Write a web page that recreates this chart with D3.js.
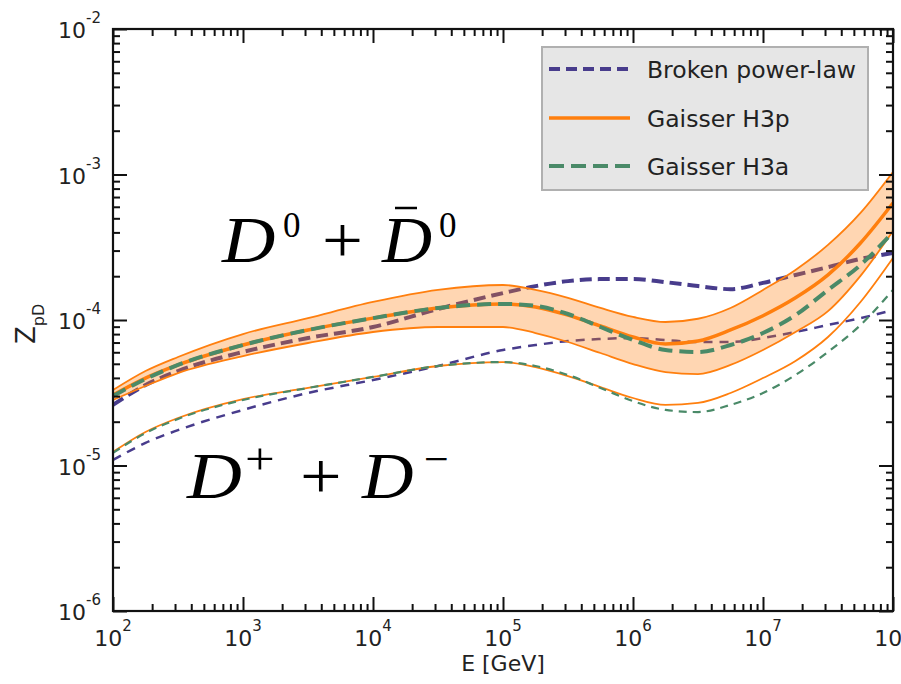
<!DOCTYPE html>
<html><head><meta charset="utf-8">
<script src="https://cdn.jsdelivr.net/npm/d3@7"></script>
<style>body{margin:0;background:#fff}</style>
</head><body><svg id="c" width="901" height="684"></svg>
<script>
// Energies [GeV] (log grid)
const energies = [1e2, 1.778e2, 3.162e2, 1e3, 3.162e3, 1e4, 3.162e4, 1e5, 1.778e5, 3.162e5, 5.623e5, 1e6, 1.778e6, 3.162e6, 5.623e6, 1e7, 1.778e7, 3.162e7, 5.623e7, 1e8];
// D0 + D0bar
const bplD0   = [2.61e-5, 3.57e-5, 4.46e-5, 6.03e-5, 7.52e-5, 8.95e-5, 1.19e-4, 1.53e-4, 1.71e-4, 1.85e-4, 1.91e-4, 1.91e-4, 1.82e-4, 1.71e-4, 1.63e-4, 1.80e-4, 2.04e-4, 2.31e-4, 2.63e-4, 2.89e-4];
const h3pD0   = [3.05e-5, 3.99e-5, 4.91e-5, 6.73e-5, 8.54e-5, 1.03e-4, 1.21e-4, 1.29e-4, 1.23e-4, 1.08e-4, 9.09e-5, 7.64e-5, 6.84e-5, 7.17e-5, 8.54e-5, 1.07e-4, 1.42e-4, 2.04e-4, 3.38e-4, 6.37e-4];
const h3pD0Hi = [3.30e-5, 4.46e-5, 5.57e-5, 8.01e-5, 1.03e-4, 1.33e-4, 1.61e-4, 1.74e-4, 1.61e-4, 1.42e-4, 1.21e-4, 1.05e-4, 9.69e-5, 1.02e-4, 1.21e-4, 1.61e-4, 2.21e-4, 3.28e-4, 5.44e-4, 1.04e-3];
const h3pD0Lo = [2.82e-5, 3.52e-5, 4.32e-5, 5.65e-5, 6.95e-5, 8.27e-5, 8.95e-5, 8.95e-5, 8.14e-5, 7.06e-5, 5.93e-5, 4.98e-5, 4.39e-5, 4.25e-5, 4.91e-5, 6.22e-5, 8.27e-5, 1.15e-4, 2.01e-4, 4.09e-4];
const h3aD0   = [3.00e-5, 3.93e-5, 4.91e-5, 6.73e-5, 8.54e-5, 1.03e-4, 1.21e-4, 1.29e-4, 1.25e-4, 1.10e-4, 8.95e-5, 7.29e-5, 6.22e-5, 6.03e-5, 6.73e-5, 8.14e-5, 1.08e-4, 1.61e-4, 2.39e-4, 4.02e-4];
// D+ + D-
const bplDp   = [1.09e-5, 1.43e-5, 1.75e-5, 2.41e-5, 3.15e-5, 3.87e-5, 4.83e-5, 6.22e-5, 6.73e-5, 7.17e-5, 7.40e-5, 7.52e-5, 7.29e-5, 7.06e-5, 7.06e-5, 7.52e-5, 8.27e-5, 9.24e-5, 1.03e-4, 1.17e-4];
const h3pDp   = [1.24e-5, 1.70e-5, 2.12e-5, 2.86e-5, 3.41e-5, 4.06e-5, 4.83e-5, 5.14e-5, 4.75e-5, 4.12e-5, 3.46e-5, 2.91e-5, 2.61e-5, 2.69e-5, 3.15e-5, 3.99e-5, 5.23e-5, 7.64e-5, 1.33e-4, 2.67e-4];
const h3aDp   = [1.22e-5, 1.67e-5, 2.09e-5, 2.82e-5, 3.41e-5, 4.06e-5, 4.83e-5, 5.14e-5, 4.83e-5, 4.19e-5, 3.41e-5, 2.77e-5, 2.41e-5, 2.33e-5, 2.61e-5, 3.15e-5, 4.19e-5, 6.03e-5, 9.24e-5, 1.61e-4];

const xTicks = [1e2, 1e3, 1e4, 1e5, 1e6, 1e7, 1e8];
const xTickExp = ["2", "3", "4", "5", "6", "7", "8"];
const yTicks = [1e-6, 1e-5, 1e-4, 1e-3, 1e-2];
const yTickExp = ["-6", "-5", "-4", "-3", "-2"];
const legendLabels = ["Broken power-law", "Gaisser H3p", "Gaisser H3a"];

const C = {purple: "#483c8c", orange: "#ff7f0e", green: "#4a8a68", band: "rgba(255,127,14,0.32)"};
const svg = d3.select("#c");
const L = 113, R = 893, T = 29, B = 611;
const x = d3.scaleLog().domain([1e2, 1e8]).range([L, R]);
const y = d3.scaleLog().domain([1e-6, 1e-2]).range([B, T]);

svg.append("defs").append("clipPath").attr("id", "clip")
  .append("rect").attr("x", L).attr("y", T).attr("width", R - L).attr("height", B - T);
const plot = svg.append("g").attr("clip-path", "url(#clip)");

const zip = arr => energies.map((e, i) => [e, arr[i]]);
const line = d3.line().x(d => x(d[0])).y(d => y(d[1])).curve(d3.curveMonotoneX);
const area = d3.area().x(d => x(d.e)).y0(d => y(d.lo)).y1(d => y(d.hi)).curve(d3.curveMonotoneX);

function path(arr, color, w, dash) {
  plot.append("path").datum(zip(arr)).attr("d", line).attr("fill", "none")
    .attr("stroke", color).attr("stroke-width", w).attr("stroke-dasharray", dash || null);
}
// purple (under band)
path(bplD0, C.purple, 4, "12,6");
path(bplDp, C.purple, 2.5, "9,7");
// band
plot.append("path").datum(energies.map((e, i) => ({e, lo: h3pD0Lo[i], hi: h3pD0Hi[i]})))
  .attr("d", area).attr("fill", C.band);
path(h3pD0Hi, C.orange, 1.8);
path(h3pD0Lo, C.orange, 1.8);
path(h3pD0, C.orange, 3.5);
path(h3pDp, C.orange, 1.8);
// green
path(h3aD0, C.green, 4, "14,7");
path(h3aDp, C.green, 2.2, "8,6");

// axes
const minorX = [], minorY = [];
for (let e = 2; e < 8; e++) for (let k = 2; k <= 9; k++) minorX.push(k * Math.pow(10, e));
for (let e = -6; e < -2; e++) for (let k = 2; k <= 9; k++) minorY.push(k * Math.pow(10, e));
function ax(gen, pos, vals, size) {
  const g = svg.append("g").attr("transform", pos)
    .call(gen.tickValues(vals).tickSize(size).tickFormat(""));
  g.select(".domain").remove();
  g.selectAll("line").attr("stroke", "#111").attr("stroke-width", 2);
}
ax(d3.axisBottom(x), `translate(0,${B})`, xTicks, -14);
ax(d3.axisBottom(x), `translate(0,${B})`, minorX, -7);
ax(d3.axisTop(x), `translate(0,${T})`, xTicks, -14);
ax(d3.axisTop(x), `translate(0,${T})`, minorX, -7);
ax(d3.axisLeft(y), `translate(${L},0)`, yTicks, -14);
ax(d3.axisLeft(y), `translate(${L},0)`, minorY, -7);
ax(d3.axisRight(y), `translate(${R},0)`, yTicks, -14);
ax(d3.axisRight(y), `translate(${R},0)`, minorY, -7);
svg.append("rect").attr("x", L).attr("y", T).attr("width", R - L).attr("height", B - T)
  .attr("fill", "none").attr("stroke", "#111").attr("stroke-width", 2.2);

const font = "DejaVu Sans";
xTicks.forEach((v, i) => {
  const t = svg.append("text").attr("x", x(v)).attr("y", 646).attr("text-anchor", "middle")
    .attr("font-family", font).attr("font-size", 22).attr("fill", "#222");
  t.append("tspan").text("10");
  t.append("tspan").attr("dy", -15).attr("font-size", 15).text(xTickExp[i]);
});
yTicks.forEach((v, i) => {
  const t = svg.append("text").attr("x", 101).attr("y", y(v) + 9).attr("text-anchor", "end")
    .attr("font-family", font).attr("font-size", 22).attr("fill", "#222");
  t.append("tspan").text("10");
  t.append("tspan").attr("dy", -15).attr("font-size", 15).text(yTickExp[i]);
});
svg.append("text").attr("x", 503).attr("y", 671).attr("text-anchor", "middle")
  .attr("font-family", font).attr("font-size", 22).attr("fill", "#222").text("E [GeV]");
const yl = svg.append("text").attr("transform", "translate(35,344) rotate(-90)")
  .attr("font-family", font).attr("font-size", 26).attr("fill", "#222");
yl.append("tspan").text("Z");
yl.append("tspan").attr("dy", 9).attr("font-size", 16).text("pD");

// legend
const lg = svg.append("g");
lg.append("rect").attr("x", 542).attr("y", 47).attr("width", 326).attr("height", 143)
  .attr("fill", "#e6e6e6").attr("stroke", "#b0b0b0").attr("stroke-width", 2);
const lgStyle = [[C.purple, 4, "11,6"], [C.orange, 3.5, null], [C.green, 4, "15,7"]];
const lgY = [69, 118, 166];
legendLabels.forEach((s, i) => {
  lg.append("line").attr("x1", 549).attr("x2", 630).attr("y1", lgY[i]).attr("y2", lgY[i])
    .attr("stroke", lgStyle[i][0]).attr("stroke-width", lgStyle[i][1]).attr("stroke-dasharray", lgStyle[i][2]);
  lg.append("text").attr("x", 647).attr("y", lgY[i] + 9).attr("font-family", font)
    .attr("font-size", 23.5).attr("fill", "#222").text(s);
});

// physics labels
const serif = "Liberation Serif";
function tx(px, py, s, size, italic, sx) {
  svg.append("text").attr("transform", `translate(${px},${py}) scale(${sx || 1},1)`).attr("font-family", serif)
    .attr("font-size", size).attr("font-style", italic ? "italic" : "normal").attr("fill", "#000").text(s);
}
tx(222, 262, "D", 66, true, 1.12);
tx(283, 237, "0", 35, false);
tx(322, 262, "+", 66, false, 1.1);
tx(382, 262, "D", 66, true, 1.05);
svg.append("line").attr("x1", 395).attr("x2", 417).attr("y1", 208).attr("y2", 208).attr("stroke", "#000").attr("stroke-width", 2.5);
tx(439, 237, "0", 35, false);
tx(187, 498, "D", 66, true, 1.15);
tx(245, 474, "+", 44, false, 1.2);
tx(300, 498, "+", 66, false, 1.12);
tx(362, 498, "D", 66, true, 1.08);
tx(424, 474, "\u2212", 44, false);
</script></body></html>
